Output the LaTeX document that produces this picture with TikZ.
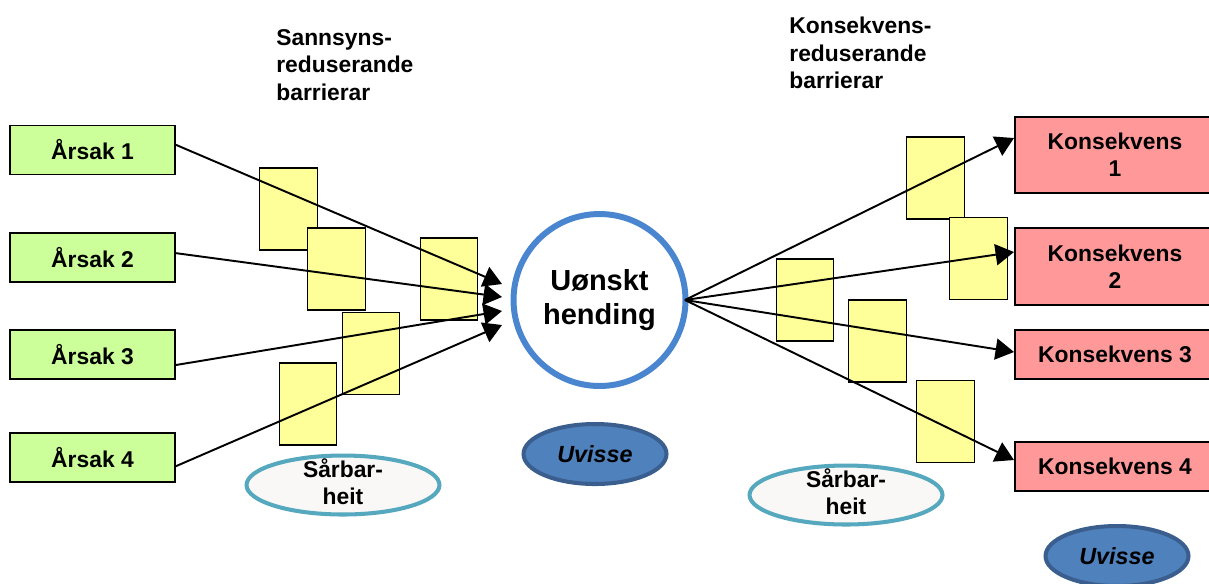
\documentclass[tikz,border=0pt]{standalone}
\usepackage{fontspec}
\setmainfont{Liberation Sans}
\usetikzlibrary{shapes.geometric,arrows.meta}

\definecolor{causegreen}{HTML}{CCFF99}
\definecolor{barrieryellow}{HTML}{FFFF99}
\definecolor{conspink}{HTML}{FF9999}
\definecolor{eventblue}{HTML}{4A86D0}
\definecolor{vulnline}{HTML}{56A8BE}
\definecolor{vulnfill}{HTML}{F9F8F6}
\definecolor{uncfill}{HTML}{4F81BD}
\definecolor{uncline}{HTML}{3A5F8E}

\tikzset{
  cause/.style={draw=black,line width=0.8pt,fill=causegreen,minimum width=3.3cm,minimum height=0.98cm,inner sep=0pt},
  conseq/.style={draw=black,line width=0.8pt,fill=conspink,minimum width=4cm,inner sep=0pt,align=center},
  barrier/.style={draw=black,line width=0.8pt,fill=barrieryellow,minimum width=1.15cm,minimum height=1.64cm,inner sep=0pt},
  vuln/.style={ellipse,draw=vulnline,line width=2.3pt,fill=vulnfill,minimum width=3.86cm,minimum height=1.18cm,inner sep=0pt},
  uncert/.style={ellipse,draw=uncline,line width=2.3pt,fill=uncfill,minimum width=2.86cm,minimum height=1.2cm,inner sep=0pt,font=\fontsize{13.3}{15.5}\selectfont\bfseries\itshape},
  flow/.style={line width=1.1pt,-{Triangle[length=10.5pt,width=12pt]}}
}

\begin{document}
\begin{tikzpicture}[x=0.02cm,y=-0.02cm,font=\fontsize{13}{15.5}\selectfont\bfseries]
\useasboundingbox (0,0) rectangle (1209,583);

% headings
\node[anchor=west,align=left,inner sep=0pt] (hleft) at (276,65) {Sannsyns-\\reduserande\\barrierar};
\node[anchor=west,align=left,inner sep=0pt] (hright) at (789,53) {Konsekvens-\\reduserande\\barrierar};

% causes
\node[cause] (a1) at (92.5,150) {Årsak 1};
\node[cause] (a2) at (92.5,257.5) {Årsak 2};
\node[cause] (a3) at (92.5,354.5) {Årsak 3};
\node[cause] (a4) at (92.5,457.5) {Årsak 4};

% consequences
\node[conseq,minimum height=1.52cm] (k1) at (1115,155) {Konsekvens\\1};
\node[conseq,minimum height=1.54cm] (k2) at (1115,266.5) {Konsekvens\\2};
\node[conseq,minimum height=0.98cm] (k3) at (1115,354.5) {Konsekvens 3};
\node[conseq,minimum height=0.98cm] (k4) at (1115,466.5) {Konsekvens 4};

% barriers
\foreach \p [count=\i] in {(288.5,209),(336.5,269),(449,279),(371,353.5),(308,404)}
  \node[barrier] (pb\i) at \p {};
\foreach \p [count=\i] in {(935.5,178),(978.5,258.5),(805,300),(877.5,341),(945.5,421.5)}
  \node[barrier] (cb\i) at \p {};

% top event
\node[circle,draw=eventblue,line width=3.4pt,fill=white,minimum size=3.44cm,inner sep=0pt,align=center,
      font=\fontsize{16.5}{19}\selectfont\bfseries] (ev) at (599.5,300) {Uønskt\\hending};

\node[vuln,label={[align=center,yshift=2pt]center:Sårbar-\\heit}] (v1) at (343,485) {};
\node[vuln,label={[align=center,yshift=2pt]center:Sårbar-\\heit}] (v2) at (846,495) {};
\node[uncert] (u1) at (595,454) {Uvisse};
\node[uncert] (u2) at (1117,556) {Uvisse};

% arrows
\coordinate (t1) at (502,284);
\coordinate (t2) at (502,297);
\coordinate (t3) at (502,311);
\coordinate (t4) at (502,325);
\draw[flow] ([yshift=3pt]a1.east) -- (t1);
\draw[flow] ([yshift=2.5pt]a2.east) -- (t2);
\draw[flow] ([yshift=-6pt]a3.east) -- (t3);
\draw[flow] ([yshift=-5pt]a4.east) -- (t4);

\coordinate (e1) at (1014,138);
\coordinate (e2) at (1014,252);
\coordinate (e3) at (1014,352);
\coordinate (e4) at (1014,460);
\foreach \i in {1,...,4}
  \draw[flow] ([xshift=-2pt]ev.east) -- (e\i);

\end{tikzpicture}
\end{document}
